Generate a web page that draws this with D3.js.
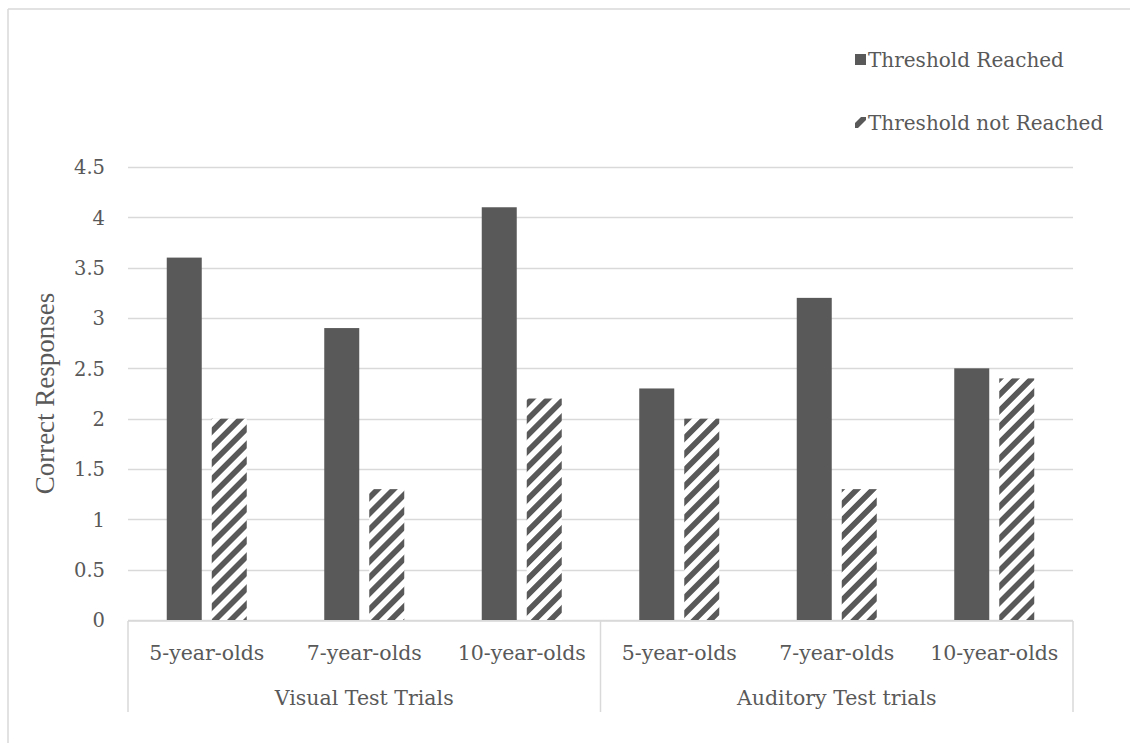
<!DOCTYPE html>
<html>
<head>
<meta charset="utf-8">
<script src="https://cdn.jsdelivr.net/npm/d3@7"></script>
<style>
  html, body { margin: 0; padding: 0; background: #fff; }
  svg { display: block; }
</style>
</head>
<body>
<svg id="chart" width="1130" height="743"></svg>
<script>
// Correct responses by age group, split by whether the threshold was reached
const groups = ["Visual Test Trials", "Auditory Test trials"];
const ages = ["5-year-olds", "7-year-olds", "10-year-olds"];
const seriesNames = ["Threshold Reached", "Threshold not Reached"];
const reached = [3.6, 2.9, 4.1, 2.3, 3.2, 2.5];
const notReached = [2.0, 1.3, 2.2, 2.0, 1.3, 2.4];
const yTicks = [0, 0.5, 1, 1.5, 2, 2.5, 3, 3.5, 4, 4.5];

const TEXT = "#595959";
const GRID = "#d9d9d9";
const BAR = "#595959";
const tickFont = "'DejaVu Serif', serif";

const svg = d3.select("#chart");

// hatched fill for the second series
const defs = svg.append("defs");
const pat = defs.append("pattern")
  .attr("id", "hatch")
  .attr("patternUnits", "userSpaceOnUse")
  .attr("width", 11.3).attr("height", 11.3)
  .attr("patternTransform", "rotate(45)");
pat.append("rect").attr("width", 11.3).attr("height", 11.3).attr("fill", "#fff");
pat.append("rect").attr("x", 0).attr("width", 5.4).attr("height", 11.3)
  .attr("fill", BAR).attr("shape-rendering", "crispEdges");

// outer frame (top and left edges)
svg.append("line").attr("x1", 8).attr("y1", 9).attr("x2", 1130).attr("y2", 9)
  .attr("stroke", GRID).attr("stroke-width", 1.5);
svg.append("line").attr("x1", 8).attr("y1", 9).attr("x2", 8).attr("y2", 743)
  .attr("stroke", GRID).attr("stroke-width", 1.5);

const plotLeft = 128, plotRight = 1073, plotTop = 167, plotBottom = 620;

// category keys: one per (group, age)
const cats = [];
groups.forEach((g, gi) => ages.forEach((a, ai) => cats.push({ key: gi + "|" + ai, group: g, age: a, i: gi * 3 + ai })));

const x = d3.scaleBand().domain(cats.map(c => c.key)).range([plotLeft, plotRight]).padding(0);
const xs = d3.scaleBand().domain(seriesNames).range([38.75, 118.75]).paddingInner(10 / 45).paddingOuter(0);
const y = d3.scaleLinear().domain([0, 4.5]).range([plotBottom, plotTop]);

// gridlines
svg.append("g").selectAll("line").data(yTicks).join("line")
  .attr("x1", plotLeft).attr("x2", plotRight)
  .attr("y1", d => Math.round(y(d)) + 0.5).attr("y2", d => Math.round(y(d)) + 0.5)
  .attr("stroke", GRID).attr("stroke-width", 1.5);

// y axis labels
const yAxis = d3.axisLeft(y).tickValues(yTicks).tickSize(0).tickPadding(0).tickFormat(d3.format("~g"));
const yg = svg.append("g").attr("transform", `translate(105,0)`).call(yAxis);
yg.select(".domain").remove();
yg.selectAll("text").attr("fill", TEXT).attr("font-family", tickFont).attr("font-size", 19.5).attr("dy", "0.35em");

// y title
svg.append("text")
  .attr("transform", `translate(54,${(plotTop + plotBottom) / 2}) rotate(-90)`)
  .attr("text-anchor", "middle")
  .attr("font-family", "'Liberation Serif', serif")
  .attr("font-size", 27)
  .attr("fill", TEXT)
  .text("Correct Responses");

// bars
const barG = svg.append("g");
barG.selectAll("rect.reached").data(cats).join("rect")
  .attr("class", "reached")
  .attr("x", c => x(c.key) + xs(seriesNames[0]))
  .attr("width", xs.bandwidth())
  .attr("y", c => y(reached[c.i]))
  .attr("height", c => y(0) - y(reached[c.i]))
  .attr("fill", BAR);
barG.selectAll("rect.notreached").data(cats).join("rect")
  .attr("class", "notreached")
  .attr("x", c => x(c.key) + xs(seriesNames[1]))
  .attr("width", xs.bandwidth())
  .attr("y", c => y(notReached[c.i]))
  .attr("height", c => y(0) - y(notReached[c.i]))
  .attr("fill", "url(#hatch)");

// category axis: baseline and group dividers
const axisY = plotBottom + 1;
svg.append("line").attr("x1", plotLeft).attr("x2", plotRight).attr("y1", axisY).attr("y2", axisY)
  .attr("stroke", GRID).attr("stroke-width", 1.5);
const dividers = [plotLeft, x(cats[3].key), plotRight];
svg.append("g").selectAll("line").data(dividers).join("line")
  .attr("x1", d => d).attr("x2", d => d).attr("y1", axisY).attr("y2", 712)
  .attr("stroke", GRID).attr("stroke-width", 1.5);

// age labels
svg.append("g").selectAll("text").data(cats).join("text")
  .attr("x", c => x(c.key) + x.bandwidth() / 2)
  .attr("y", 660)
  .attr("text-anchor", "middle")
  .attr("font-family", tickFont).attr("font-size", 20.5).attr("fill", TEXT)
  .text(c => c.age);

// group labels
svg.append("g").selectAll("text").data(groups).join("text")
  .attr("x", (g, gi) => x(cats[gi * 3].key) + x.bandwidth() * 1.5)
  .attr("y", 705)
  .attr("text-anchor", "middle")
  .attr("font-family", tickFont).attr("font-size", 20.5).attr("fill", TEXT)
  .text(g => g);

// legend
const legend = svg.append("g").attr("transform", "translate(855,0)");
const legendY = [60, 123];
const items = legend.selectAll("g").data(seriesNames).join("g")
  .attr("transform", (d, i) => `translate(0,${legendY[i]})`);
items.append("rect")
  .attr("x", 0).attr("y", -6).attr("width", 11).attr("height", 11)
  .attr("fill", (d, i) => i === 0 ? BAR : "url(#hatch)");
items.append("text")
  .attr("x", 13).attr("y", 0).attr("dy", "0.35em")
  .attr("font-family", tickFont).attr("font-size", 20).attr("fill", TEXT)
  .text(d => d);
</script>
</body>
</html>
